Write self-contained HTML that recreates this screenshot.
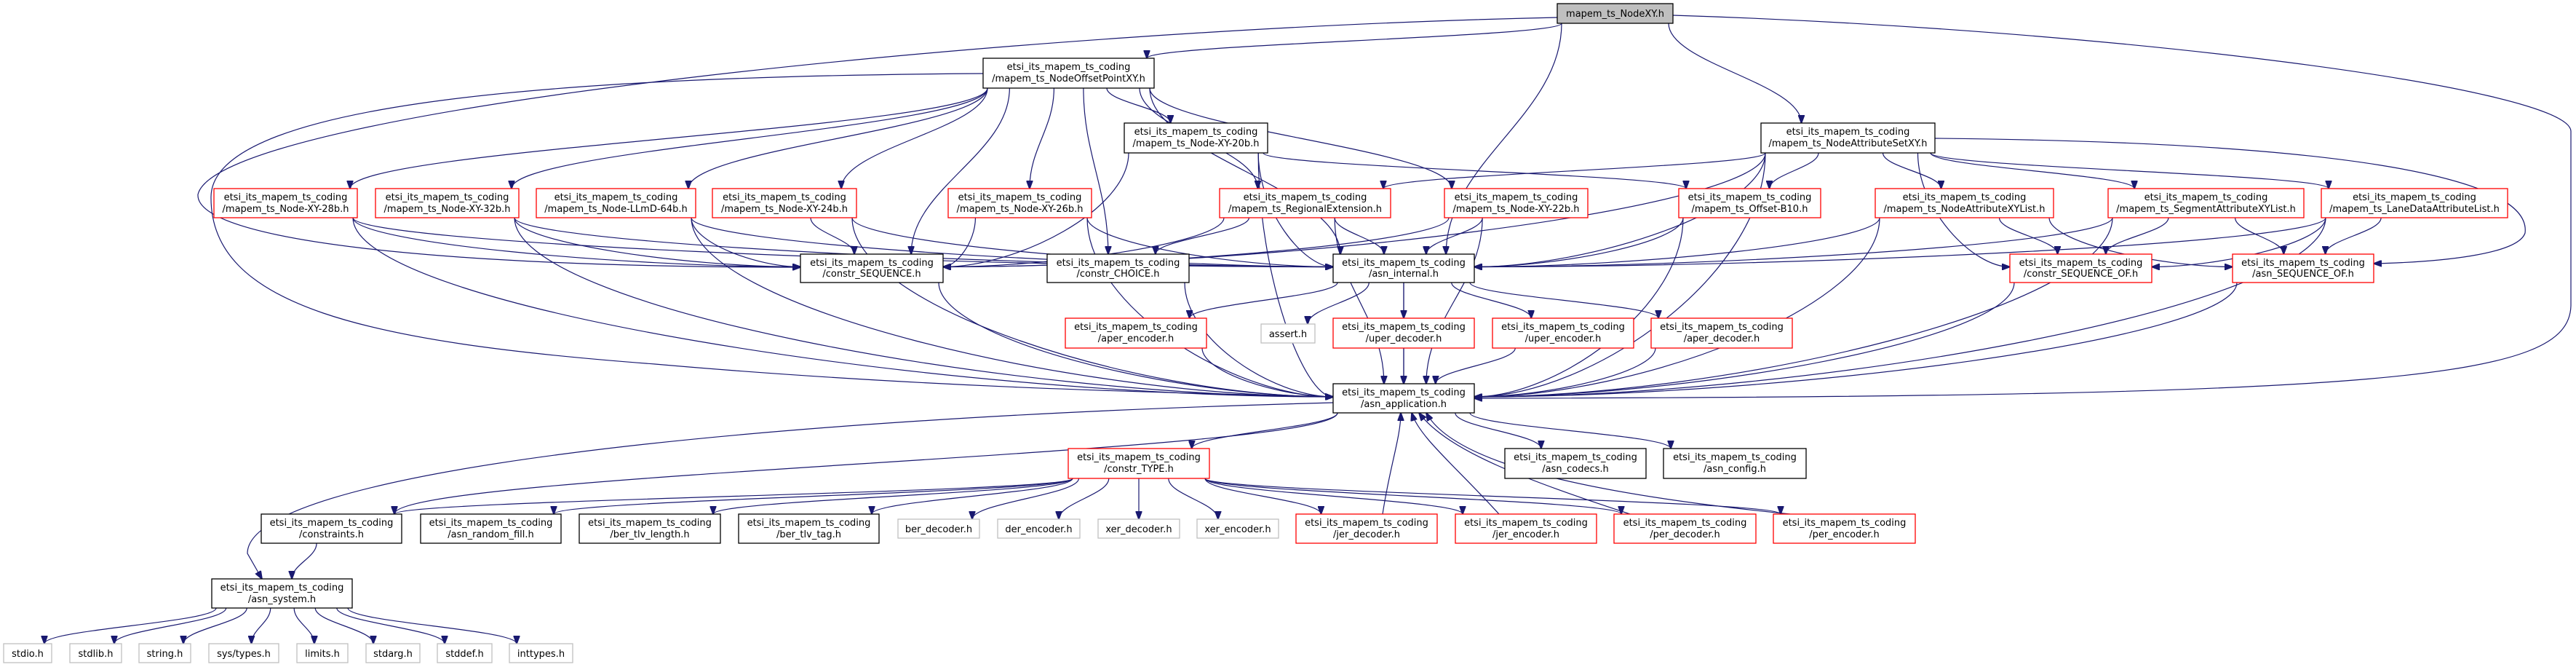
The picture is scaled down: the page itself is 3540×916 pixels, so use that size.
<!DOCTYPE html>
<html><head><meta charset="utf-8"><style>
html,body{margin:0;padding:0;background:#fff;width:3540px;height:916px;overflow:hidden}
svg{display:block}
text{font-family:"DejaVu Sans","Liberation Sans",sans-serif;font-size:13px;fill:#000;text-anchor:middle}
.b rect{fill:#fff;stroke:#000;stroke-width:1.3}
.r rect{fill:#fff;stroke:#ff0000;stroke-width:1.3}
.g rect{fill:#fff;stroke:#bfbfbf;stroke-width:1.3}
.e path{fill:none;stroke:#191970;stroke-width:1.2}
</style></head><body>
<svg id="s" width="3540" height="916" viewBox="0 0 3540 916" xmlns="http://www.w3.org/2000/svg">
<defs><marker id="a" markerWidth="12" markerHeight="9" refX="11" refY="4.5" orient="auto" markerUnits="userSpaceOnUse"><path d="M0,0 L12,4.5 L0,9 z" fill="#191970" stroke="#191970"/></marker></defs>
<g class="e" id="edges"></g>
<g id="nodes">
<g class="b"><rect x="2140" y="5" width="159" height="27" style="fill:#bfbfbf"/><text x="2219.5" y="23">mapem_ts_NodeXY.h</text></g>
<g class="b"><rect x="1351" y="80" width="235" height="41"/><text x="1468.5" y="96">etsi_its_mapem_ts_coding</text><text x="1468.5" y="112">/mapem_ts_NodeOffsetPointXY.h</text></g>
<g class="b"><rect x="1545" y="169" width="197" height="41"/><text x="1643.5" y="185">etsi_its_mapem_ts_coding</text><text x="1643.5" y="201">/mapem_ts_Node-XY-20b.h</text></g>
<g class="b"><rect x="2420" y="169" width="239" height="41"/><text x="2539.5" y="185">etsi_its_mapem_ts_coding</text><text x="2539.5" y="201">/mapem_ts_NodeAttributeSetXY.h</text></g>
<g class="r"><rect x="294" y="259" width="197" height="40"/><text x="392.5" y="275">etsi_its_mapem_ts_coding</text><text x="392.5" y="291">/mapem_ts_Node-XY-28b.h</text></g>
<g class="r"><rect x="516" y="259" width="197" height="40"/><text x="614.5" y="275">etsi_its_mapem_ts_coding</text><text x="614.5" y="291">/mapem_ts_Node-XY-32b.h</text></g>
<g class="r"><rect x="737" y="259" width="219" height="40"/><text x="846.5" y="275">etsi_its_mapem_ts_coding</text><text x="846.5" y="291">/mapem_ts_Node-LLmD-64b.h</text></g>
<g class="r"><rect x="979" y="259" width="198" height="40"/><text x="1078" y="275">etsi_its_mapem_ts_coding</text><text x="1078" y="291">/mapem_ts_Node-XY-24b.h</text></g>
<g class="r"><rect x="1303" y="259" width="197" height="40"/><text x="1401.5" y="275">etsi_its_mapem_ts_coding</text><text x="1401.5" y="291">/mapem_ts_Node-XY-26b.h</text></g>
<g class="r"><rect x="1676" y="259" width="235" height="40"/><text x="1793.5" y="275">etsi_its_mapem_ts_coding</text><text x="1793.5" y="291">/mapem_ts_RegionalExtension.h</text></g>
<g class="r"><rect x="1985" y="259" width="197" height="40"/><text x="2083.5" y="275">etsi_its_mapem_ts_coding</text><text x="2083.5" y="291">/mapem_ts_Node-XY-22b.h</text></g>
<g class="r"><rect x="2307" y="259" width="195" height="40"/><text x="2404.5" y="275">etsi_its_mapem_ts_coding</text><text x="2404.5" y="291">/mapem_ts_Offset-B10.h</text></g>
<g class="r"><rect x="2577" y="259" width="245" height="40"/><text x="2699.5" y="275">etsi_its_mapem_ts_coding</text><text x="2699.5" y="291">/mapem_ts_NodeAttributeXYList.h</text></g>
<g class="r"><rect x="2897" y="259" width="269" height="40"/><text x="3031.5" y="275">etsi_its_mapem_ts_coding</text><text x="3031.5" y="291">/mapem_ts_SegmentAttributeXYList.h</text></g>
<g class="r"><rect x="3190" y="259" width="256" height="40"/><text x="3318" y="275">etsi_its_mapem_ts_coding</text><text x="3318" y="291">/mapem_ts_LaneDataAttributeList.h</text></g>
<g class="b"><rect x="1100" y="349" width="196" height="39"/><text x="1198" y="365">etsi_its_mapem_ts_coding</text><text x="1198" y="380">/constr_SEQUENCE.h</text></g>
<g class="b"><rect x="1439" y="349" width="195" height="39"/><text x="1536.5" y="365">etsi_its_mapem_ts_coding</text><text x="1536.5" y="380">/constr_CHOICE.h</text></g>
<g class="b"><rect x="1832" y="349" width="194" height="39"/><text x="1929" y="365">etsi_its_mapem_ts_coding</text><text x="1929" y="380">/asn_internal.h</text></g>
<g class="r"><rect x="2762" y="349" width="195" height="39"/><text x="2859.5" y="365">etsi_its_mapem_ts_coding</text><text x="2859.5" y="380">/constr_SEQUENCE_OF.h</text></g>
<g class="r"><rect x="3068" y="349" width="194" height="39"/><text x="3165" y="365">etsi_its_mapem_ts_coding</text><text x="3165" y="380">/asn_SEQUENCE_OF.h</text></g>
<g class="r"><rect x="1464" y="437" width="194" height="41"/><text x="1561" y="453">etsi_its_mapem_ts_coding</text><text x="1561" y="469">/aper_encoder.h</text></g>
<g class="g"><rect x="1733" y="445" width="74" height="26"/><text x="1770" y="463">assert.h</text></g>
<g class="r"><rect x="1832" y="437" width="194" height="41"/><text x="1929" y="453">etsi_its_mapem_ts_coding</text><text x="1929" y="469">/uper_decoder.h</text></g>
<g class="r"><rect x="2051" y="437" width="194" height="41"/><text x="2148" y="453">etsi_its_mapem_ts_coding</text><text x="2148" y="469">/uper_encoder.h</text></g>
<g class="r"><rect x="2269" y="437" width="194" height="41"/><text x="2366" y="453">etsi_its_mapem_ts_coding</text><text x="2366" y="469">/aper_decoder.h</text></g>
<g class="b"><rect x="1832" y="527" width="194" height="40"/><text x="1929" y="543">etsi_its_mapem_ts_coding</text><text x="1929" y="559">/asn_application.h</text></g>
<g class="r"><rect x="1468" y="616" width="194" height="41"/><text x="1565" y="632">etsi_its_mapem_ts_coding</text><text x="1565" y="648">/constr_TYPE.h</text></g>
<g class="b"><rect x="2068" y="616" width="194" height="41"/><text x="2165" y="632">etsi_its_mapem_ts_coding</text><text x="2165" y="648">/asn_codecs.h</text></g>
<g class="b"><rect x="2286" y="616" width="196" height="41"/><text x="2384" y="632">etsi_its_mapem_ts_coding</text><text x="2384" y="648">/asn_config.h</text></g>
<g class="b"><rect x="359" y="706" width="193" height="40"/><text x="455.5" y="722">etsi_its_mapem_ts_coding</text><text x="455.5" y="738">/constraints.h</text></g>
<g class="b"><rect x="578" y="706" width="193" height="40"/><text x="674.5" y="722">etsi_its_mapem_ts_coding</text><text x="674.5" y="738">/asn_random_fill.h</text></g>
<g class="b"><rect x="796" y="706" width="194" height="40"/><text x="893" y="722">etsi_its_mapem_ts_coding</text><text x="893" y="738">/ber_tlv_length.h</text></g>
<g class="b"><rect x="1015" y="706" width="193" height="40"/><text x="1111.5" y="722">etsi_its_mapem_ts_coding</text><text x="1111.5" y="738">/ber_tlv_tag.h</text></g>
<g class="g"><rect x="1234" y="713" width="112" height="26"/><text x="1290" y="731">ber_decoder.h</text></g>
<g class="g"><rect x="1371" y="713" width="113" height="26"/><text x="1427.5" y="731">der_encoder.h</text></g>
<g class="g"><rect x="1509" y="713" width="112" height="26"/><text x="1565" y="731">xer_decoder.h</text></g>
<g class="g"><rect x="1645" y="713" width="112" height="26"/><text x="1701" y="731">xer_encoder.h</text></g>
<g class="r"><rect x="1781" y="706" width="194" height="40"/><text x="1878" y="722">etsi_its_mapem_ts_coding</text><text x="1878" y="738">/jer_decoder.h</text></g>
<g class="r"><rect x="2000" y="706" width="194" height="40"/><text x="2097" y="722">etsi_its_mapem_ts_coding</text><text x="2097" y="738">/jer_encoder.h</text></g>
<g class="r"><rect x="2218" y="706" width="195" height="40"/><text x="2315.5" y="722">etsi_its_mapem_ts_coding</text><text x="2315.5" y="738">/per_decoder.h</text></g>
<g class="r"><rect x="2437" y="706" width="195" height="40"/><text x="2534.5" y="722">etsi_its_mapem_ts_coding</text><text x="2534.5" y="738">/per_encoder.h</text></g>
<g class="b"><rect x="291" y="795" width="193" height="40"/><text x="387.5" y="811">etsi_its_mapem_ts_coding</text><text x="387.5" y="827">/asn_system.h</text></g>
<g class="g"><rect x="5" y="884" width="66" height="26"/><text x="38" y="902">stdio.h</text></g>
<g class="g"><rect x="96" y="884" width="71" height="26"/><text x="131.5" y="902">stdlib.h</text></g>
<g class="g"><rect x="191" y="884" width="71" height="26"/><text x="226.5" y="902">string.h</text></g>
<g class="g"><rect x="287" y="884" width="96" height="26"/><text x="335" y="902">sys/types.h</text></g>
<g class="g"><rect x="408" y="884" width="70" height="26"/><text x="443" y="902">limits.h</text></g>
<g class="g"><rect x="503" y="884" width="74" height="26"/><text x="540" y="902">stdarg.h</text></g>
<g class="g"><rect x="601" y="884" width="75" height="26"/><text x="638.5" y="902">stddef.h</text></g>
<g class="g"><rect x="700" y="884" width="87" height="26"/><text x="743.5" y="902">inttypes.h</text></g>
</g>
</svg>
<script>
var N={root:[2140,5,2299,32],nop:[1351,80,1586,121],n20:[1545,169,1742,210],nas:[2420,169,2659,210],
n28:[294,259,491,299],n32:[516,259,713,299],llmd:[737,259,956,299],n24:[979,259,1177,299],n26:[1303,259,1500,299],
reg:[1676,259,1911,299],n22:[1985,259,2182,299],ob10:[2307,259,2502,299],naxl:[2577,259,2822,299],saxl:[2897,259,3166,299],ldal:[3190,259,3446,299],
cseq:[1100,349,1296,388],cch:[1439,349,1634,388],ain:[1832,349,2026,388],cso:[2762,349,2957,388],aso:[3068,349,3262,388],
aenc:[1464,437,1658,478],asrt:[1733,445,1807,471],udec:[1832,437,2026,478],uenc:[2051,437,2245,478],adec:[2269,437,2463,478],
aapp:[1832,527,2026,567],ctype:[1468,616,1662,657],acod:[2068,616,2262,657],acfg:[2286,616,2482,657],
cons:[359,706,552,746],arf:[578,706,771,746],btl:[796,706,990,746],btt:[1015,706,1208,746],bdec:[1234,713,1346,739],denc:[1371,713,1484,739],
xdec:[1509,713,1621,739],xenc:[1645,713,1757,739],jdec:[1781,706,1975,746],jenc:[2000,706,2194,746],pdec:[2218,706,2413,746],penc:[2437,706,2632,746],
asys:[291,795,484,835],s1:[5,884,71,910],s2:[96,884,167,910],s3:[191,884,262,910],s4:[287,884,383,910],s5:[408,884,478,910],s6:[503,884,577,910],s7:[601,884,676,910],s8:[700,884,787,910]};
var E=[['root','nop'],['root','nas'],['root','ain'],
['nop','n28'],['nop','n32'],['nop','llmd'],['nop','n24'],['nop','n26'],['nop','n20'],['nop','reg'],['nop','n22'],['nop','cseq'],['nop','cch'],['nop','ain'],
['n20','cseq'],['n20','ain'],['n20','ob10'],['n20','aapp'],
['nas','reg'],['nas','ob10'],['nas','naxl'],['nas','saxl'],['nas','ldal'],['nas','cso'],['nas','ain'],['nas','aapp'],['nas','cseq'],
['n28','cseq'],['n28','ain'],['n28','aapp'],['n32','cseq'],['n32','ain'],['n32','aapp'],['llmd','cseq'],['llmd','ain'],['llmd','aapp'],
['n24','cseq'],['n24','ain'],['n24','aapp'],['n26','cseq'],['n26','ain'],['n26','aapp'],['n22','cseq'],['n22','ain'],['n22','aapp'],
['reg','cseq'],['reg','cch'],['reg','ain'],['reg','aapp'],['ob10','ain'],['ob10','aapp'],
['naxl','cso'],['naxl','aso'],['naxl','ain'],['naxl','aapp'],['saxl','cso'],['saxl','aso'],['saxl','ain'],['saxl','aapp'],
['ldal','cso'],['ldal','aso'],['ldal','ain'],['ldal','aapp'],
['cseq','aapp'],['cch','aapp'],['cso','aapp'],['aso','aapp'],
['ain','aenc'],['ain','asrt'],['ain','udec'],['ain','uenc'],['ain','adec'],['ain','aapp'],
['aenc','aapp'],['udec','aapp'],['uenc','aapp'],['adec','aapp'],
['aapp','ctype'],['aapp','acod'],['aapp','acfg'],['aapp','cons'],
['ctype','cons'],['ctype','arf'],['ctype','btl'],['ctype','btt'],['ctype','bdec'],['ctype','denc'],['ctype','xdec'],['ctype','xenc'],['ctype','jdec'],['ctype','jenc'],['ctype','pdec'],['ctype','penc'],
['cons','asys'],['asys','s1'],['asys','s2'],['asys','s3'],['asys','s4'],['asys','s5'],['asys','s6'],['asys','s7'],['asys','s8']];
var P=[
'M2140,24 C1400,40 300,150 272,267 C268,330 600,367 1100,367',
'M1351,101 C700,105 292,150 290,270 C288,420 500,470 900,500 C1300,535 1650,540 1832,545',
'M2299,21 C2900,40 3530,120 3533,180 L3533,420 C3530,520 3300,545 2026,547',
'M1832,553 C1000,575 340,650 340,760 L360,795',
'M2659,190 C3200,195 3480,240 3470,320 C3460,350 3350,360 3262,362',
'M1900,706 C1910,640 1925,600 1925,567',
'M2060,706 C2000,640 1950,600 1940,567',
'M2240,706 C2100,660 1990,620 1950,567',
'M2460,706 C2200,680 2000,640 1960,567'
];
var SIDE={cseq:1,ain:1,cso:1,aso:1,aapp:1};
var SRC3={n28:1,n32:1,llmd:1,n24:1,n26:1,reg:1,n22:1,ob10:1,naxl:1,saxl:1,ldal:1,n20:1,nas:1,cseq:1,cch:1,cso:1,aso:1,aenc:1,adec:1};
var g=document.getElementById('edges'),h='';
function cl(v,a,b){return Math.max(a,Math.min(b,v));}
E.forEach(function(e){var s=N[e[0]],t=N[e[1]];
var scx=(s[0]+s[2])/2,tcx=(t[0]+t[2])/2;
var sx=cl(scx+(tcx-scx)*0.3,s[0]+6,s[2]-6),sy=s[3];
var tx,ty,d;
var outside=(scx<t[0]-20||scx>t[2]+20);
if(SIDE[e[1]]&&SRC3[e[0]]&&outside&&Math.abs(tcx-scx)>t[2]-t[0]){
 var dir=tcx>scx?1:-1;tx=dir>0?t[0]:t[2];ty=(t[1]+t[3])/2-2;
 d='M'+sx+','+sy+' C'+sx+','+((sy+ty)/2)+' '+(tx-dir*Math.abs(tx-sx)*0.4)+','+ty+' '+tx+','+ty;
}else{
 var dy=t[1]-sy;
 tx=cl(tcx+(scx-tcx)*0.2,t[0]+10,t[2]-10);ty=t[1];
 d='M'+sx+','+sy+' C'+sx+','+(sy+dy*0.4)+' '+tx+','+(ty-dy*0.4)+' '+tx+','+ty;}
h+='<path d="'+d+'" marker-end="url(#a)"/>';});
P.forEach(function(d){h+='<path d="'+d+'" marker-end="url(#a)"/>';});
g.innerHTML=h;
</script>
</body></html>
